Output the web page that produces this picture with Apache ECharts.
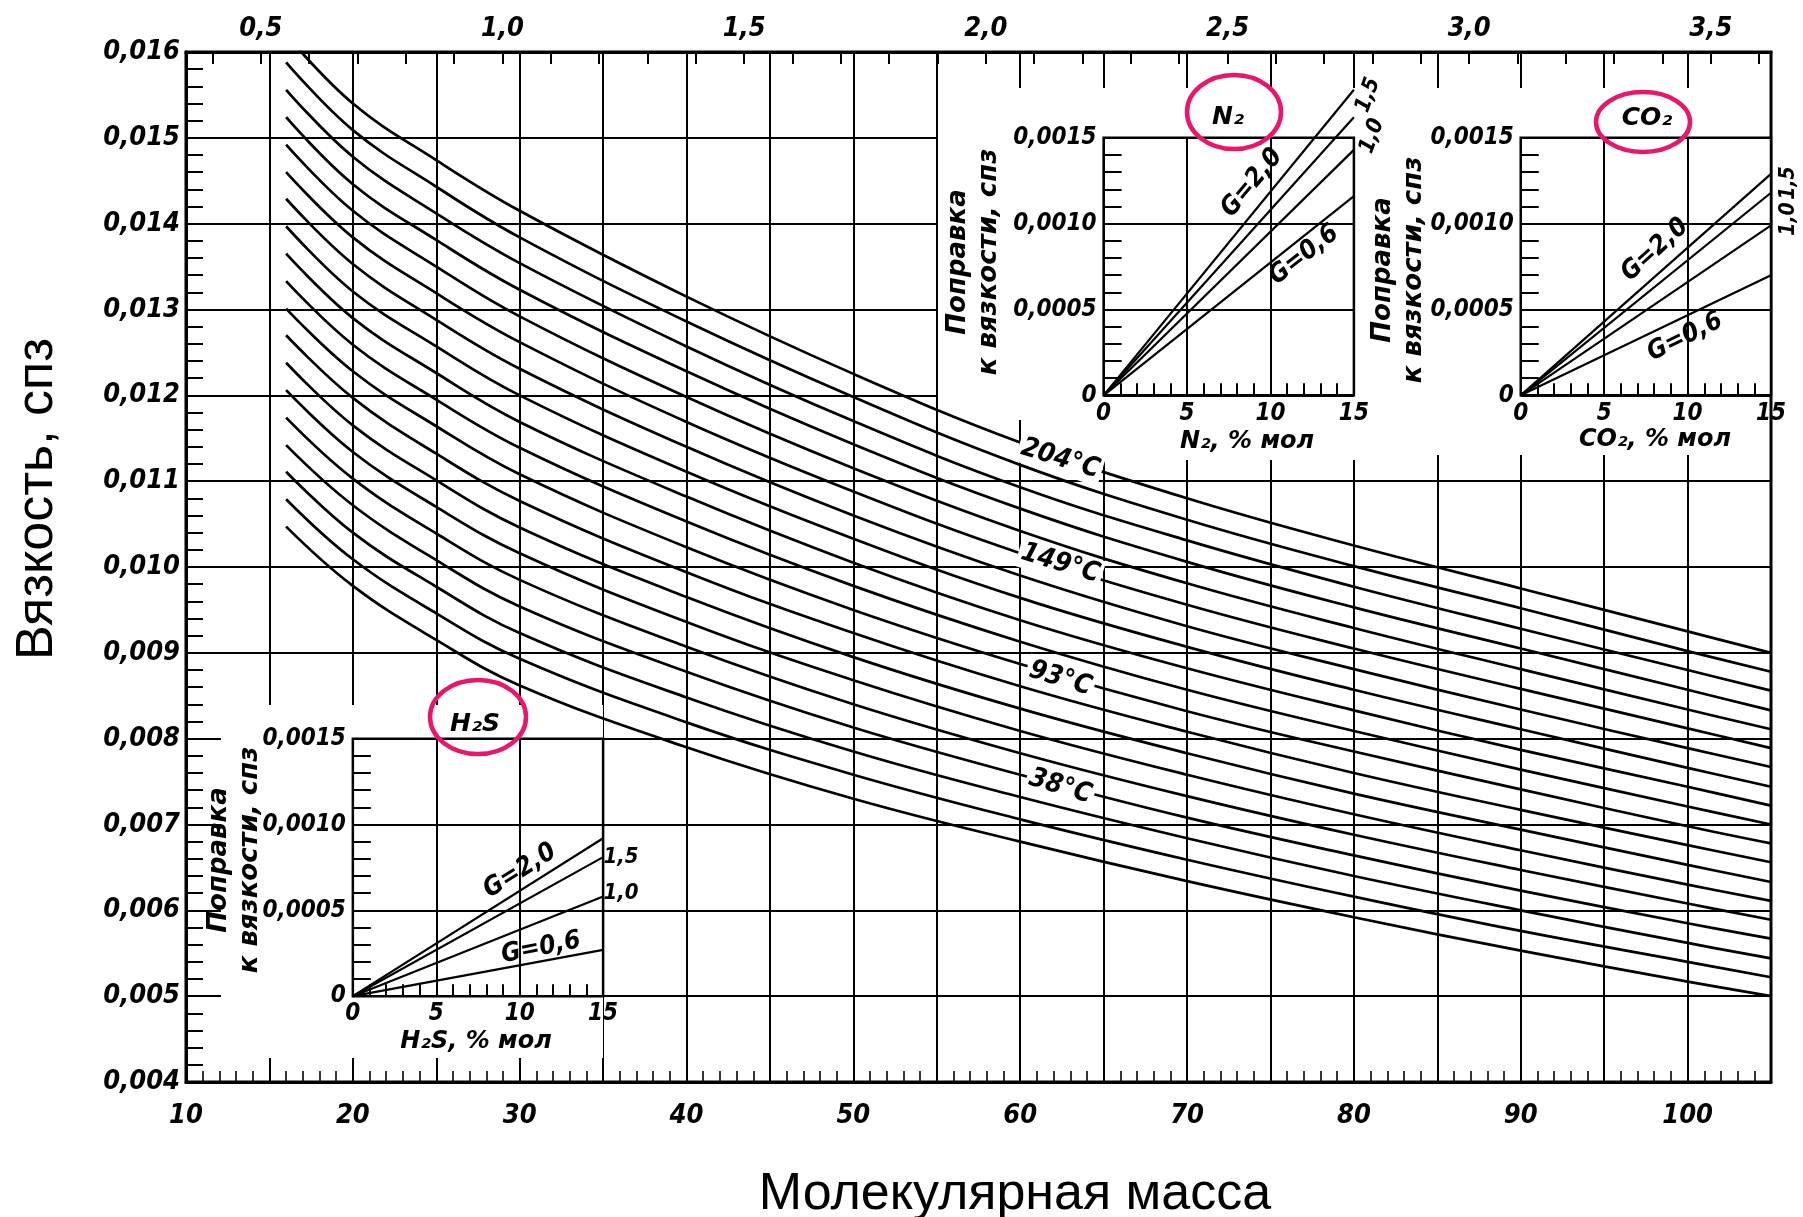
<!DOCTYPE html>
<html><head><meta charset="utf-8">
<script src="https://cdn.jsdelivr.net/npm/echarts@6/dist/echarts.min.js"></script>
<style>html,body{margin:0;padding:0;background:#fff}#c{width:1803px;height:1217px}</style>
</head><body><div id="c"></div>
<script>
// ---------- DATA (viscosity, cP, read at these molecular masses) ----------
const massPoints = [16,20,25,30,40,50,60,70,80,90,100,105];
// 19 isotherms from the lowest (k00) to the highest (k18 = 204°C)
const visc_k00 = [0.01047,0.00978,0.00915,0.00862,0.00790,0.00730,0.00680,0.00634,0.00592,0.00553,0.00517,0.00500];
const visc_k01 = [0.01079,0.01009,0.00946,0.00893,0.00819,0.00758,0.00706,0.00659,0.00616,0.00576,0.00540,0.00522];
const visc_k02 = [0.01111,0.01040,0.00977,0.00923,0.00848,0.00785,0.00732,0.00684,0.00640,0.00600,0.00562,0.00544];
const visc_k03 = [0.01142,0.01072,0.01008,0.00954,0.00878,0.00813,0.00758,0.00708,0.00664,0.00623,0.00585,0.00567]; // 38°C
const visc_k04 = [0.01174,0.01103,0.01039,0.00985,0.00907,0.00840,0.00783,0.00733,0.00688,0.00647,0.00608,0.00589];
const visc_k05 = [0.01206,0.01134,0.01070,0.01016,0.00936,0.00868,0.00809,0.00758,0.00712,0.00670,0.00630,0.00611];
const visc_k06 = [0.01238,0.01165,0.01101,0.01046,0.00965,0.00895,0.00835,0.00783,0.00736,0.00694,0.00653,0.00633];
const visc_k07 = [0.01270,0.01197,0.01132,0.01077,0.00994,0.00923,0.00861,0.00808,0.00760,0.00717,0.00676,0.00656];
const visc_k08 = [0.01301,0.01228,0.01164,0.01108,0.01023,0.00950,0.00887,0.00832,0.00785,0.00741,0.00698,0.00678]; // 93°C
const visc_k09 = [0.01333,0.01259,0.01195,0.01139,0.01053,0.00978,0.00913,0.00857,0.00809,0.00764,0.00721,0.00700];
const visc_k10 = [0.01365,0.01290,0.01226,0.01169,0.01082,0.01005,0.00938,0.00882,0.00833,0.00787,0.00744,0.00722];
const visc_k11 = [0.01397,0.01321,0.01257,0.01200,0.01111,0.01033,0.00964,0.00907,0.00857,0.00811,0.00766,0.00744];
const visc_k12 = [0.01429,0.01353,0.01288,0.01231,0.01140,0.01060,0.00990,0.00931,0.00881,0.00834,0.00789,0.00767];
const visc_k13 = [0.01460,0.01384,0.01319,0.01262,0.01169,0.01088,0.01016,0.00956,0.00905,0.00858,0.00812,0.00789]; // 149°C
const visc_k14 = [0.01492,0.01415,0.01350,0.01292,0.01198,0.01115,0.01042,0.00981,0.00929,0.00881,0.00834,0.00811];
const visc_k15 = [0.01524,0.01446,0.01381,0.01323,0.01228,0.01143,0.01068,0.01006,0.00953,0.00905,0.00857,0.00833];
const visc_k16 = [0.01556,0.01478,0.01412,0.01354,0.01257,0.01170,0.01093,0.01031,0.00977,0.00928,0.00880,0.00856];
const visc_k17 = [0.01588,0.01509,0.01443,0.01384,0.01286,0.01198,0.01119,0.01055,0.01001,0.00952,0.00902,0.00878];
const visc_k18 = [0.01620,0.01540,0.01474,0.01415,0.01315,0.01225,0.01145,0.01080,0.01025,0.00975,0.00925,0.00900]; // 204°C
const isotherms = [visc_k00,visc_k01,visc_k02,visc_k03,visc_k04,visc_k05,visc_k06,visc_k07,visc_k08,visc_k09,
                   visc_k10,visc_k11,visc_k12,visc_k13,visc_k14,visc_k15,visc_k16,visc_k17,visc_k18];

const tempLabelText = ['38°C','93°C','149°C','204°C'];
const tempLabelMass = [62.4,62.4,62.4,62.4];
const tempLabelVisc = [0.00744,0.0087,0.01004,0.01126];

const xTickValues = [10,20,30,40,50,60,70,80,90,100];
const xTickLabels = ['10','20','30','40','50','60','70','80','90','100'];
const yTickLabels = ['0,004','0,005','0,006','0,007','0,008','0,009','0,010','0,011','0,012','0,013','0,014','0,015','0,016'];
const topTickValues = [0.5,1.0,1.5,2.0,2.5,3.0,3.5];
const topTickLabels = ['0,5','1,0','1,5','2,0','2,5','3,0','3,5'];
const airMolMass = 28.97;

const insetPct = [0, 15];
const insetXTickLabels = ['0','5','10','15'];
const insetYTickLabels = ['0','0,0005','0,0010','0,0015'];
// corrections at 15 % for G = 0.6, 1.0, 1.5, 2.0
const n2CorrAt15  = [0.00116,0.00143,0.00162,0.00178];
const co2CorrAt15 = [0.00070,0.00099,0.00118,0.00129];
const h2sCorrAt15 = [0.00027,0.00058,0.00081,0.00092];

// ---------- LAYOUT ----------
const G = {left:186, top:52, width:1585, height:1030};
const px = M => G.left + (M - 10) * G.width / 95;
const py = v => G.top + (0.016 - v) / 0.012 * G.height;
const NUMF = '"DejaVu Sans Condensed","Liberation Sans Narrow","DejaVu Sans",sans-serif';
const WIDEF = '"DejaVu Sans",sans-serif';
const numLabel = (size) => ({fontFamily:NUMF, fontStyle:'italic', fontWeight:'bold', fontSize:size, color:'#000'});
const BLACK = '#000';

function insetGrid(m0, m1, v0, v1) {
  return {left:px(m0), top:py(v0), width:px(m1)-px(m0), height:py(v1)-py(v0),
          show:true, backgroundColor:'#fff', borderColor:BLACK, borderWidth:2.5, z:2};
}
const grids = [
  {left:G.left, top:G.top, width:G.width, height:G.height, show:true, borderColor:BLACK, borderWidth:3, z:2},
  insetGrid(65, 80, 0.015, 0.012),   // N2
  insetGrid(90, 105, 0.015, 0.012),  // CO2
  insetGrid(20, 35, 0.008, 0.005)    // H2S
];

const xAxes = [
  {gridIndex:0, type:'value', min:10, max:105, interval:5, z:0,
   axisLine:{lineStyle:{color:BLACK, width:3}},
   axisTick:{inside:true, length:20, lineStyle:{color:BLACK, width:2}},
   minorTick:{show:true, splitNumber:5, length:11, lineStyle:{color:BLACK, width:1.6}},
   axisLabel:Object.assign(numLabel(27), {margin:20, customValues:xTickValues,
     formatter:v => xTickLabels[xTickValues.indexOf(Math.round(v))] || ''}),
   splitLine:{show:true, lineStyle:{color:BLACK, width:2}}},
  {gridIndex:0, type:'value', position:'top', min:10/airMolMass, max:105/airMolMass, z:0,
   axisLine:{lineStyle:{color:BLACK, width:3}},
   axisTick:{inside:true, length:12, lineStyle:{color:BLACK, width:2},
     customValues:Array.from({length:33}, (_, i) => +(0.4 + i*0.1).toFixed(1))},
   axisLabel:Object.assign(numLabel(27), {margin:10, customValues:topTickValues,
     formatter:v => topTickLabels[topTickValues.findIndex(t => Math.abs(t - v) < 1e-6)] || ''}),
   splitLine:{show:false}}
];
const yAxes = [
  {gridIndex:0, type:'value', min:0.004, max:0.016, interval:0.001, z:0,
   axisLine:{lineStyle:{color:BLACK, width:3}},
   axisTick:{inside:true, length:17, lineStyle:{color:BLACK, width:2}},
   minorTick:{show:true, splitNumber:5, length:17, lineStyle:{color:BLACK, width:2}},
   axisLabel:Object.assign(numLabel(27), {margin:6,
     formatter:v => yTickLabels[Math.round((v - 0.004) / 0.001)] || ''}),
   splitLine:{show:true, lineStyle:{color:BLACK, width:2}}}
];
for (let i = 1; i <= 3; i++) {
  xAxes.push({gridIndex:i, type:'value', min:0, max:15, interval:5, z:3,
    axisLine:{show:false},
    axisTick:{inside:true, length:12, lineStyle:{color:BLACK, width:2}},
    minorTick:{show:true, splitNumber:5, length:12, lineStyle:{color:BLACK, width:2}},
    axisLabel:Object.assign(numLabel(24), {margin:6, formatter:v => insetXTickLabels[Math.round(v/5)]}),
    splitLine:{show:true, lineStyle:{color:BLACK, width:2}}});
  yAxes.push({gridIndex:i, type:'value', min:0, max:0.0015, interval:0.0005, z:3,
    axisLine:{show:false},
    axisTick:{inside:true, length:18, lineStyle:{color:BLACK, width:2}},
    minorTick:{show:true, splitNumber:5, length:18, lineStyle:{color:BLACK, width:2}},
    axisLabel:Object.assign(numLabel(24), {margin:7, formatter:v => insetYTickLabels[Math.round(v/0.0005)]}),
    splitLine:{show:true, lineStyle:{color:BLACK, width:2}}});
}

// ---------- SERIES ----------
const series = isotherms.map(arr => ({
  type:'line', xAxisIndex:0, yAxisIndex:0, data:massPoints.map((m, i) => [m, arr[i]]),
  showSymbol:false, smooth:0.4, lineStyle:{color:BLACK, width:2.7}, z:2, silent:true}));
[n2CorrAt15, co2CorrAt15, h2sCorrAt15].forEach((arr, gi) => {
  arr.forEach(v => series.push({type:'line', xAxisIndex:gi+2, yAxisIndex:gi+1, clip:false,
    data:[[insetPct[0], 0], [insetPct[1], v]], showSymbol:false, z:4, silent:true,
    lineStyle:{color:BLACK, width:2.2}}));
});

// ---------- ANNOTATIONS ----------
const FONT_I = (s) => `italic bold ${s}px ${NUMF}`;
const FONT_W = (s) => `italic bold ${s}px ${WIDEF}`;
function gtext(text, x, y, size, rot, font, extra) {
  return {type:'text', x, y, rotation:rot || 0, z:6,
    style:Object.assign({text, fill:BLACK, font:font || FONT_I(size), align:'center', verticalAlign:'middle',
      textAlign:'center', textVerticalAlign:'middle', lineHeight:size + 4}, extra || {})};
}
const PINK = '#E8176B';
const deg = d => d * Math.PI / 180;
const graphics = [
  {type:'rect', z:1, shape:{x:938, y:88, width:1100-938, height:420-88}, style:{fill:'#fff'}},
  {type:'rect', z:1, shape:{x:1100, y:88, width:256, height:460-88}, style:{fill:'#fff'}},
  {type:'rect', z:1, shape:{x:1356, y:88, width:1769-1356, height:455-88}, style:{fill:'#fff'}},
  {type:'rect', z:1, shape:{x:221, y:705, width:603-221, height:1058-705}, style:{fill:'#fff'}},
  {type:'ellipse', z:6, shape:{cx:1234, cy:112, rx:47, ry:37}, style:{fill:'none', stroke:PINK, lineWidth:4.5}},
  {type:'ellipse', z:6, shape:{cx:1643, cy:122, rx:47, ry:30}, style:{fill:'none', stroke:PINK, lineWidth:4.5}},
  {type:'ellipse', z:6, shape:{cx:478, cy:717, rx:48, ry:37}, style:{fill:'none', stroke:PINK, lineWidth:4.5}},
  gtext('N₂', 1228, 117, 25, 0, FONT_W(25)),
  gtext('CO₂', 1647, 118, 25, 0, FONT_W(25)),
  gtext('H₂S', 475, 724, 25, 0, FONT_W(25)),
  gtext('Поправка\nк вязкости, спз', 974, 262, 27, deg(90), FONT_W(26)),
  gtext('Поправка\nк вязкости, спз', 1399, 270, 27, deg(90), FONT_W(26)),
  gtext('Поправка\nк вязкости, спз', 235, 860, 27, deg(90), FONT_W(26)),
  gtext('N₂, % мол', 1247, 442, 24, 0, FONT_W(24)),
  gtext('CO₂, % мол', 1655, 440, 24, 0, FONT_W(24)),
  gtext('H₂S, % мол', 476, 1042, 24, 0, FONT_W(24)),
  gtext('G=2,0', 1252, 183, 26, deg(50)),
  gtext('G=0,6', 1304, 255, 26, deg(38)),
  gtext('1,5', 1368, 95, 22, deg(70)),
  gtext('1,0', 1372, 136, 22, deg(70)),
  gtext('G=2,0', 1655, 250, 26, deg(42)),
  gtext('G=0,6', 1685, 337, 26, deg(26)),
  gtext('1,5', 1789, 183, 21, deg(90)),
  gtext('1,0', 1789, 219, 21, deg(90)),
  gtext('G=2,0', 520, 871, 26, deg(32)),
  gtext('G=0,6', 541, 948, 26, deg(11)),
  gtext('1,5', 621, 857, 22, 0),
  gtext('1,0', 621, 893, 22, 0),
  gtext('Вязкость, спз', 38, 499, 52, deg(90), 'normal 52px "Liberation Sans", Arial, sans-serif'),
  gtext('Молекулярная масса', 1015, 1195, 52, 0, 'normal 52px "Liberation Sans", Arial, sans-serif')
];

const chart = echarts.init(document.getElementById('c'), null, {renderer:'canvas', width:1803, height:1217});
chart.setOption({
  animation:false, backgroundColor:'#fff',
  grid:grids, xAxis:xAxes, yAxis:yAxes, series,
  graphic:{elements:graphics}
});
// temperature labels placed on the isotherms through the chart's own scale
tempLabelText.forEach((t, i) => {
  const p = chart.convertToPixel({xAxisIndex:0, yAxisIndex:0}, [tempLabelMass[i], tempLabelVisc[i]]);
  graphics.push(gtext(t, p[0], p[1], 27, deg(-17), FONT_I(27),
    {backgroundColor:'#fff', padding:[0,3,0,3]}));
});
chart.setOption({graphic:{elements:graphics}});
</script></body></html>
